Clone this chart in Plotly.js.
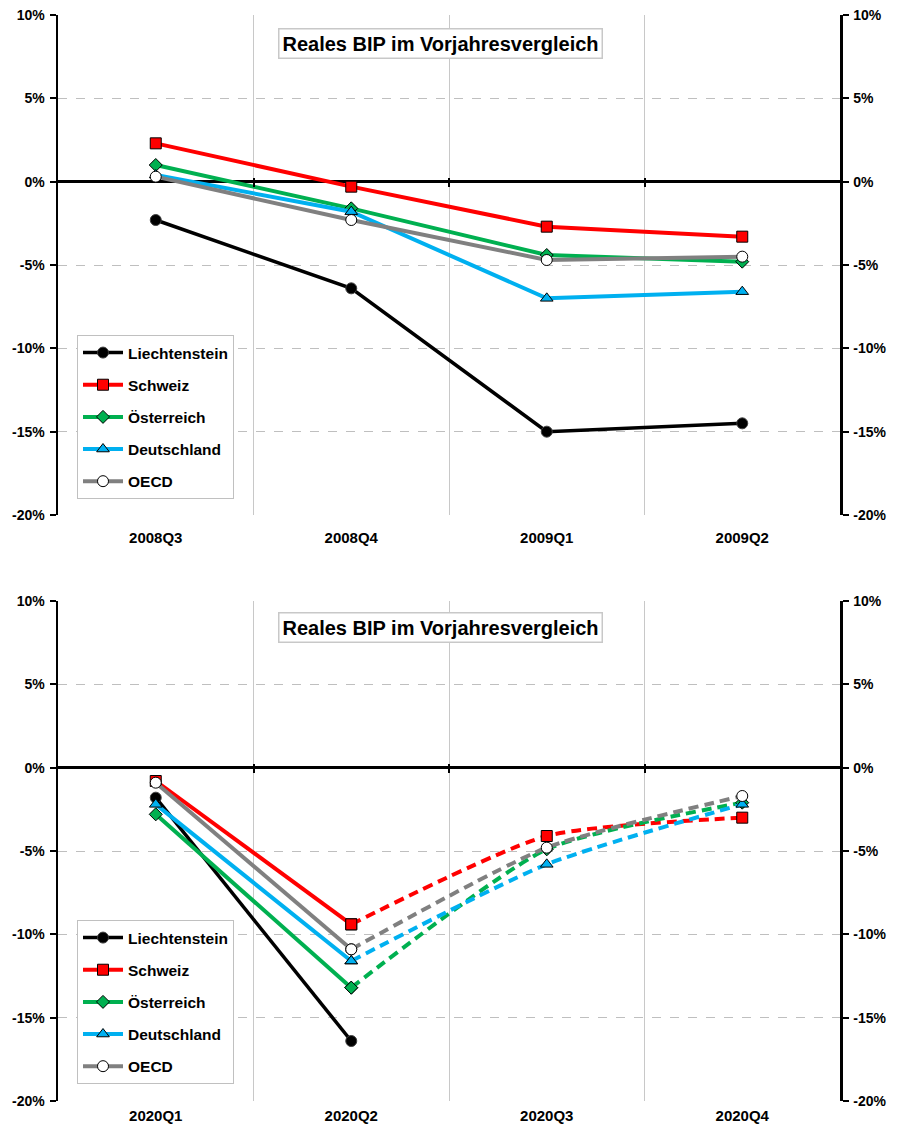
<!DOCTYPE html>
<html>
<head>
<meta charset="utf-8">
<script src="https://cdn.plot.ly/plotly-3.0.1.min.js"></script>
<style>html,body{margin:0;padding:0;background:#fff;}#chart{width:906px;height:1124px;}</style>
</head>
<body>
<div id="chart"></div>
<script>
// ---- data ----
const seriesNames = ['Liechtenstein', 'Schweiz', 'Österreich', 'Deutschland', 'OECD'];
const cats1 = ['2008Q3', '2008Q4', '2009Q1', '2009Q2'];
const li1   = [-2.3, -6.4, -15.0, -14.5];
const ch1   = [2.3, -0.3, -2.7, -3.3];
const at1   = [1.0, -1.6, -4.4, -4.8];
const de1   = [0.4, -1.8, -7.0, -6.6];
const oecd1 = [0.3, -2.3, -4.7, -4.5];

const cats2 = ['2020Q1', '2020Q2', '2020Q3', '2020Q4'];
const li2   = [-1.8, -16.4, null, null];
const ch2   = [-0.8, -9.4, -4.1, -3.0];
const at2   = [-2.8, -13.2, -4.9, -2.1];
const de2   = [-2.2, -11.6, -5.8, -2.2];
const oecd2 = [-0.9, -10.9, -4.8, -1.7];

const yTicks = [-20, -15, -10, -5, 0, 5, 10];
const yTickText = ['-20%', '-15%', '-10%', '-5%', '0%', '5%', '10%'];
const chartTitle = 'Reales BIP im Vorjahresvergleich';

// ---- styles ----
const FONT = '"Liberation Sans", Arial, sans-serif';
const styles = [
  {color: '#000000', width: 3.5, marker: {symbol: 'circle', size: 11, color: '#000000', line: {color: '#404040', width: 1}}},
  {color: '#ff0000', width: 4, marker: {symbol: 'square', size: 11, color: '#ff0000', line: {color: '#000000', width: 1}}},
  {color: '#00b050', width: 4, marker: {symbol: 'diamond', size: 10, color: '#00b050', line: {color: '#000000', width: 1}}},
  {color: '#00b0f0', width: 4, marker: {symbol: 'triangle-up', size: 11, color: '#00b0f0', line: {color: '#000000', width: 1}}},
  {color: '#808080', width: 4, marker: {symbol: 'circle', size: 11, color: '#ffffff', line: {color: '#000000', width: 1}}}
];

const data1 = [li1, ch1, at1, de1, oecd1];
const data2 = [li2, ch2, at2, de2, oecd2];

const traces = [];
// empty helper traces so the right-hand axes and zero-line tick axes are drawn
[['x', 'y3'], ['x3', 'y'], ['x4', 'y'], ['x2', 'y4'], ['x5', 'y2'], ['x6', 'y2']].forEach(p => {
  traces.push({type: 'scatter', mode: 'markers', x: [], y: [], xaxis: p[0], yaxis: p[1], showlegend: false, hoverinfo: 'skip'});
});
data1.forEach((vals, i) => {
  traces.push({
    type: 'scatter', mode: 'lines+markers', name: seriesNames[i],
    x: cats1, y: vals, xaxis: 'x', yaxis: 'y', legend: 'legend',
    legendgroup: 'a' + i,
    line: {color: styles[i].color, width: styles[i].width},
    marker: styles[i].marker
  });
});
data2.forEach((vals, i) => {
  traces.push({
    type: 'scatter', mode: 'lines+markers', name: seriesNames[i],
    x: cats2.slice(0, 2), y: vals.slice(0, 2), xaxis: 'x2', yaxis: 'y2', legend: 'legend2',
    legendgroup: 'b' + i,
    line: {color: styles[i].color, width: styles[i].width},
    marker: styles[i].marker
  });
});
data2.forEach((vals, i) => {
  const xs = [], ys = [];
  for (let k = 1; k < cats2.length; k++) { if (vals[k] !== null) { xs.push(cats2[k]); ys.push(vals[k]); } }
  if (ys.length < 2) return;
  traces.push({
    type: 'scatter', mode: 'lines+markers', name: seriesNames[i], showlegend: false,
    x: xs, y: ys, xaxis: 'x2', yaxis: 'y2', legend: 'legend2',
    legendgroup: 'b' + i,
    line: {color: styles[i].color, width: styles[i].width, dash: '10px,6px', shape: 'spline', smoothing: 0.6},
    marker: styles[i].marker
  });
});

// ---- layout ----
const W = 906, H = 1124;
const mL = 58, mR = 66, mT = 15, mB = 23;
const plotH = H - mT - mB;
const plotW = W - mL - mR;
const dom1 = [1 - 500 / plotH, 1];
const dom2 = [0, 500 / plotH];
const yr = [-20, 10];
const zeroPos = d => d[0] + (0 - yr[0]) / (yr[1] - yr[0]) * (d[1] - d[0]);

const yTickFont = {family: FONT, size: 14, color: '#000', weight: 'bold'};
const xTickFont = {family: FONT, size: 15, color: '#000', weight: 'bold'};

function catAxis(cats, anchor, standoff) {
  return {
    anchor: anchor, type: 'category', categoryarray: cats, range: [-0.5, 3.5],
    tickson: 'boundaries', showgrid: true, gridcolor: '#c8c8c8', gridwidth: 1,
    ticks: '', showline: false, zeroline: false, tickfont: xTickFont,
    ticklabelstandoff: standoff, fixedrange: true
  };
}
function leftY(dom) {
  return {
    domain: dom, range: yr, tickvals: yTicks, ticktext: yTickText,
    showline: true, linecolor: '#000', linewidth: 2.5,
    ticks: 'outside', ticklen: 6, tickwidth: 2, tickcolor: '#000',
    showgrid: true, gridcolor: '#bfbfbf', griddash: 'dash', gridwidth: 1,
    zeroline: true, zerolinecolor: '#000', zerolinewidth: 2.5,
    tickfont: yTickFont, ticklabelstandoff: 2, fixedrange: true
  };
}
function rightY(over, anchor) {
  return {
    overlaying: over, anchor: anchor, side: 'right', range: yr, tickvals: yTicks, ticktext: yTickText,
    showline: true, linecolor: '#000', linewidth: 2.5,
    ticks: 'outside', ticklen: 6, tickwidth: 2, tickcolor: '#000',
    showgrid: false, zeroline: false, tickfont: yTickFont, ticklabelstandoff: 2, fixedrange: true
  };
}
function zeroTicks(over, pos, side) {
  return {
    overlaying: over, anchor: 'free', position: pos, side: side,
    type: 'linear', range: [-0.5, 3.5], tickvals: [0.5, 1.5, 2.5],
    showticklabels: false, showgrid: false, zeroline: false, showline: false,
    ticks: 'outside', ticklen: 4, tickwidth: 2, tickcolor: '#000', fixedrange: true
  };
}
function legendAt(yPaper) {
  return {
    x: (77 - mL) / plotW, y: yPaper, xanchor: 'left', yanchor: 'top',
    bgcolor: '#ffffff', bordercolor: '#c0c0c0', borderwidth: 1,
    font: {family: FONT, size: 15.5, color: '#000', weight: 'bold'},
    itemwidth: 40, tracegroupgap: 9, traceorder: 'grouped'
  };
}
function titleAnn(yPaper) {
  return {
    text: chartTitle, xref: 'paper', yref: 'paper', x: (440 - mL) / plotW, y: yPaper,
    xanchor: 'center', yanchor: 'middle', showarrow: false,
    font: {family: FONT, size: 20, color: '#000', weight: 'bold'},
    bgcolor: '#ffffff', bordercolor: '#c8c8c8', borderwidth: 1.5, borderpad: 3
  };
}

const layout = {
  width: W, height: H,
  margin: {l: mL, r: mR, t: mT, b: mB, pad: 0},
  paper_bgcolor: '#ffffff', plot_bgcolor: '#ffffff',
  font: {family: FONT, color: '#000'},
  xaxis: catAxis(cats1, 'y', 12),
  yaxis: leftY(dom1),
  yaxis3: rightY('y', 'x'),
  xaxis3: zeroTicks('x', zeroPos(dom1), 'bottom'),
  xaxis4: zeroTicks('x', zeroPos(dom1), 'top'),
  xaxis2: catAxis(cats2, 'y2', 4),
  yaxis2: leftY(dom2),
  yaxis4: rightY('y2', 'x2'),
  xaxis5: zeroTicks('x2', zeroPos(dom2), 'bottom'),
  xaxis6: zeroTicks('x2', zeroPos(dom2), 'top'),
  legend: legendAt(1 - (335 - mT) / plotH),
  legend2: legendAt(1 - (920 - mT) / plotH),
  annotations: [titleAnn(1 - (43 - mT) / plotH), titleAnn(1 - (628 - mT) / plotH)],
  showlegend: true
};

Plotly.newPlot('chart', traces, layout, {displayModeBar: false, staticPlot: true});
</script>
</body>
</html>
